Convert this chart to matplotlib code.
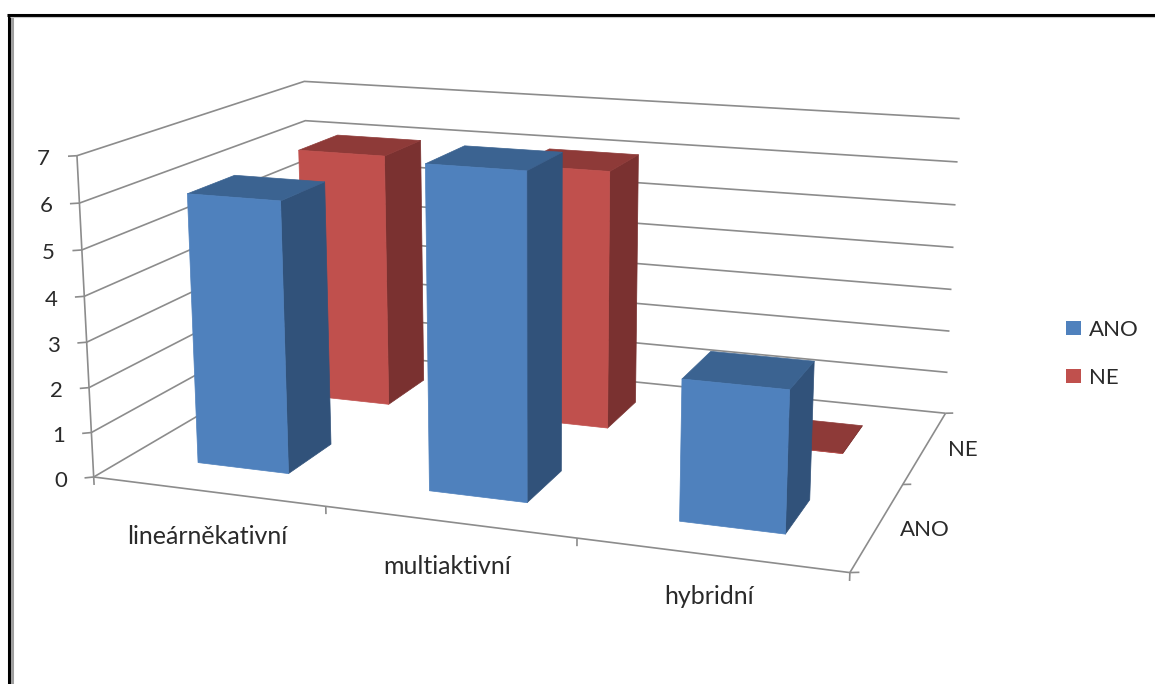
from matplotlib import pyplot as plt
from matplotlib.lines import Line2D
from matplotlib.patches import Rectangle

plt.rcParams['font.family'] = ['Lato', 'DejaVu Sans']

W, H = 1155, 684

categories = ["lineárněkativní", "multiaktivní", "hybridní"]
series_names = ["ANO", "NE"]
ano = [6, 7, 3]
ne = [6, 6, 0]
z_ticks = [0, 1, 2, 3, 4, 5, 6, 7]

grid = "#8c8c8c"
text_col = "#2a2a2a"
blue = {"front": "#4f81bd", "side": "#31527a", "top": "#3b6391"}
red = {"front": "#c0504d", "side": "#7a3130", "top": "#8e3a38"}
fsize = 16
cat_fsize = 18

fig = plt.figure(figsize=(W / 100, H / 100), dpi=100)
ax = fig.add_axes([0, 0, 1, 1], projection="3d", computed_zorder=False)
ax.set_xlim(0, 3)
ax.set_ylim(0, 2)
ax.set_zlim(0, 7)
ax.set_xticks([])
ax.set_yticks([])
ax.set_zticks([])
ax.set_axis_off()
ax.view_init(elev=14.175, azim=-70.263, roll=-0.02)
ax.set_proj_type("persp", focal_length=0.442)
ax.set_box_aspect((1, 0.6569, 0.4261))

# place the axes so one projection unit is s pixels, origin at (ox, oy)
s, ox, oy = 4957.3, 539.0, 391.3
vl = ax.viewLim
ax.set_position([(ox + s * vl.x0) / W, (oy + s * vl.y0) / H,
                 s * (vl.x1 - vl.x0) / W, s * (vl.y1 - vl.y0) / H])


def bar(x, y, h, c):
    # only the faces that can be seen: top, front, right side
    faces = ["none", c["top"], c["front"], "none", "none", c["side"]]
    ax.bar3d(x + .3, y + .3, 0, .4, .4, h, shade=False, zorder=5,
             color=faces, edgecolor=faces, linewidth=0.5)


def line3d(xs, ys, zs, **kw):
    ax.plot(xs, ys, zs, color=grid, lw=1.2, solid_capstyle="butt", **kw)


def label(x, y, txt, size=fsize, ha="center"):
    # x, y in pixels from the top left corner
    fig.text(x / W, 1 - y / H, txt, ha=ha, va="center", fontsize=size, color=text_col)


# gridlines on the left and back walls
for k in z_ticks:
    line3d([0, 0, 3], [0, 2, 2], [k, k, k], zorder=1)

# axes with their tick marks
line3d([0, 0], [0, 0], [-0.18, 7], zorder=2)
line3d([0, 3], [0, 0], [0, 0], zorder=2)
line3d([3, 3], [0, 2], [0, 0], zorder=2)
for k in z_ticks:
    line3d([0, -0.028], [0, -0.022], [k, k], zorder=2)
    ax.text(-0.08, -0.062, k - 0.03, str(k), ha="right", va="center",
            fontsize=fsize, color=text_col, zorder=6)
for i in range(1, 4):
    line3d([i, i], [0, 0], [0, -0.17], zorder=2)
for j in range(0, 3):
    line3d([3, 3.0306], [j, j + 0.0138], [0, 0], zorder=2)

for i, v in enumerate(ne):
    bar(i, 1, v, red)
for i, v in enumerate(ano):
    bar(i, 0, v, blue)

# category and series labels
for name, x, y in zip(categories, [207, 447, 709], [537, 566.5, 597]):
    label(x, y, name, size=cat_fsize)
for name, x, y in zip(series_names, [925, 963], [530.5, 450.5]):
    label(x, y, name)

# legend on the right
for name, c, y in zip(series_names, [blue, red], [328, 376]):
    fig.add_artist(Rectangle((1066 / W, 1 - (y + 7) / H), 15 / W, 14 / H,
                             transform=fig.transFigure, color=c["front"], lw=0))
    label(1089, y + 2, name, ha="left")

# page border: black top and left, grey inner line on the left
fig.add_artist(Line2D([8.7 / W, 8.7 / W], [0, 1 - 13.5 / H], color="k", lw=2.2,
                      transform=fig.transFigure, solid_capstyle="butt"))
fig.add_artist(Line2D([11.5 / W, 11.5 / W], [0, 1 - 16 / H], color="#a0a0a0", lw=2.2,
                      transform=fig.transFigure, solid_capstyle="butt"))
fig.add_artist(Line2D([7.2 / W, 1], [1 - 14.8 / H, 1 - 14.8 / H], color="k", lw=2.2,
                      transform=fig.transFigure, solid_capstyle="butt"))
fig.add_artist(Line2D([10 / W, 1], [1 - 16.6 / H, 1 - 16.6 / H], color="#c8c8c8", lw=0.8,
                      transform=fig.transFigure, solid_capstyle="butt"))

fig.savefig("out.png", dpi=100)
